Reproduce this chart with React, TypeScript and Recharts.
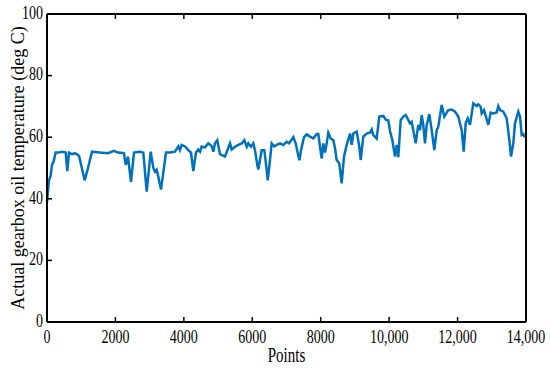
import React from 'react';
import { LineChart, Line, XAxis, YAxis } from 'recharts';

const pointIndex = [
  0, 58, 108, 146, 190, 254, 321, 438, 547, 593,
  643, 731, 818, 935, 1102, 1198, 1315, 1549, 1783, 1958,
  2075, 2250, 2300, 2367, 2455, 2543, 2718, 2815, 2914, 3031,
  3107, 3157, 3206, 3253, 3332, 3478, 3595, 3741, 3838, 3887,
  3937, 4033, 4130, 4209, 4276, 4355, 4422, 4472, 4521, 4618,
  4714, 4814, 4861, 4910, 4977, 5056, 5115, 5202, 5281, 5349,
  5398, 5495, 5591, 5691, 5767, 5837, 5884, 5962, 6030, 6079,
  6147, 6176, 6225, 6275, 6351, 6421, 6451, 6497, 6567, 6643,
  6713, 6810, 6906, 7006, 7073, 7199, 7269, 7345, 7380, 7424,
  7511, 7590, 7687, 7783, 7883, 7930, 7979, 8029, 8076, 8125,
  8175, 8222, 8292, 8368, 8418, 8467, 8543, 8613, 8680, 8759,
  8856, 8905, 8952, 9052, 9128, 9169, 9245, 9344, 9440, 9490,
  9537, 9636, 9712, 9829, 9908, 9975, 10025, 10093, 10171, 10221,
  10268, 10338, 10414, 10484, 10560, 10609, 10659, 10776, 10852, 10902,
  10951, 10998, 11048, 11098, 11174, 11244, 11320, 11390, 11437, 11536,
  11612, 11729, 11828, 11925, 12021, 12120, 12179, 12237, 12296, 12363,
  12460, 12559, 12606, 12676, 12705, 12772, 12802, 12898, 12968, 13044,
  13144, 13191, 13240, 13337, 13436, 13512, 13562, 13629, 13678, 13775,
  13825, 13874, 13921, 13960,
];

const oilTemp = [
  39, 46, 47.5, 51, 52, 55, 55, 55.3, 55, 49,
  55, 54.5, 54.8, 54, 46, 50, 55.3, 55, 54.8, 55.6,
  55, 54.8, 51, 53.7, 45.5, 55, 55.3, 55, 42.3, 55.3,
  50, 48.8, 49.4, 47.2, 43, 55, 55, 55.3, 57, 55.8,
  57.5, 57, 55.8, 55, 49, 55, 56, 55.3, 57, 56.7,
  58, 57.1, 55.3, 58, 59, 54.5, 54.2, 53.7, 56, 58,
  56, 56.9, 57.5, 58, 59, 56.9, 58, 56.9, 58, 55.8,
  51, 49.5, 52.6, 55.8, 55.8, 49.4, 46, 50.4, 58, 57,
  57.5, 58, 57.5, 58.5, 58, 60, 58, 54, 52.5, 55.8,
  60, 60.9, 60.2, 59.6, 61, 61, 56.9, 53.1, 58, 55,
  58, 61.5, 59.6, 59, 56.4, 52.6, 51.5, 45, 53.7, 57.5,
  61.2, 57.5, 61.2, 61.8, 56.9, 52.6, 60.2, 61.2, 61.5, 62.5,
  60.7, 59.6, 66.7, 66.9, 65.6, 65.5, 62, 59.1, 53.7, 57.5,
  53.5, 65.6, 66.7, 67.2, 65.6, 64.5, 65, 58, 64, 62.3,
  67.2, 64, 58, 64, 67.5, 62.3, 55.8, 62.3, 63.4, 70.5,
  66.7, 68.8, 69, 68.3, 66.7, 62.3, 55.3, 64.5, 66.1, 64,
  71, 70.1, 70.7, 69.9, 67.7, 68.8, 67.7, 64, 68, 67.7,
  68, 70.1, 68.8, 68.3, 66.1, 59.1, 53.7, 58, 64.5, 68.3,
  66.7, 60.7, 61, 60,
];

const xTicks = [0, 2000, 4000, 6000, 8000, 10000, 12000, 14000];
const xTickLabels = ['0', '2000', '4000', '6000', '8000', '10,000', '12,000', '14,000'];
const yTicks = [0, 20, 40, 60, 80, 100];

const data = pointIndex.map((p, i) => ({ point: p, temp: oilTemp[i] }));

const FONT = '"Liberation Serif", "Times New Roman", serif';
const STRETCH = 1.4;
const TICK_LEN = 5;

const XTick = (props: any) => {
  const { x, y, payload } = props;
  const idx = xTicks.indexOf(payload.value);
  const label = idx >= 0 ? xTickLabels[idx] : String(payload.value);
  return (
    <g transform={`translate(${x},${y})`}>
      <line x1={0} y1={0} x2={0} y2={-TICK_LEN} stroke="#000" strokeWidth={1.5} />
      <text
        transform={`scale(1,${STRETCH})`}
        x={0}
        y={15}
        textAnchor="middle"
        fontFamily={FONT}
        fontSize={14}
        fill="#000"
      >
        {label}
      </text>
    </g>
  );
};

const YTick = (props: any) => {
  const { x, y, payload } = props;
  return (
    <g transform={`translate(${x},${y})`}>
      <line x1={0} y1={0} x2={TICK_LEN} y2={0} stroke="#000" strokeWidth={1.5} />
      <text
        transform={`scale(1,${STRETCH})`}
        x={-4}
        y={3.4}
        textAnchor="end"
        fontFamily={FONT}
        fontSize={14}
        fill="#000"
      >
        {payload.value}
      </text>
    </g>
  );
};

const TopTick = (props: any) => {
  const { x, y } = props;
  return <line x1={x} y1={y} x2={x} y2={y + TICK_LEN} stroke="#000" strokeWidth={1.5} />;
};

const RightTick = (props: any) => {
  const { x, y } = props;
  return <line x1={x} y1={y} x2={x - TICK_LEN} y2={y} stroke="#000" strokeWidth={1.5} />;
};

const XLabel = (props: any) => {
  const vb = props.viewBox || {};
  const cx = (vb.x || 0) + (vb.width || 0) / 2;
  const by = (vb.y || 0) + 40;
  return (
    <g transform={`translate(${cx},${by})`}>
      <text
        transform={`scale(1,${STRETCH})`}
        x={0}
        y={0}
        textAnchor="middle"
        fontFamily={FONT}
        fontSize={15}
        fill="#000"
      >
        Points
      </text>
    </g>
  );
};

const YLabel = (props: any) => {
  const vb = props.viewBox || {};
  const cy = (vb.y || 0) + (vb.height || 0) / 2;
  return (
    <text
      transform={`translate(24,${cy}) rotate(-90)`}
      x={0}
      y={0}
      textAnchor="middle"
      fontFamily={FONT}
      fontSize={18}
      fill="#000"
    >
      Actual gearbox oil temperature (deg C)
    </text>
  );
};

export default function App() {
  return (
    <div style={{ position: 'absolute', left: 0, top: 0, width: 550, height: 372 }}>
      <LineChart
        width={550}
        height={372}
        data={data}
        margin={{ top: 13, right: 23, bottom: 0, left: 0 }}
      >
        <XAxis
          dataKey="point"
          type="number"
          domain={[0, 14000]}
          ticks={xTicks}
          interval={0}
          height={50}
          axisLine={{ stroke: '#000', strokeWidth: 2 }}
          tickLine={false}
          tickSize={0}
          tickMargin={0}
          tick={<XTick />}
          label={{ value: 'Points', content: <XLabel /> }}
        />
        <XAxis
          xAxisId="top"
          orientation="top"
          dataKey="point"
          type="number"
          domain={[0, 14000]}
          ticks={xTicks}
          interval={0}
          height={1}
          axisLine={{ stroke: '#000', strokeWidth: 2 }}
          tickLine={false}
          tickSize={0}
          tickMargin={0}
          tick={<TopTick />}
        />
        <YAxis
          type="number"
          domain={[0, 100]}
          ticks={yTicks}
          interval={0}
          width={47}
          axisLine={{ stroke: '#000', strokeWidth: 2 }}
          tickLine={false}
          tickSize={0}
          tickMargin={0}
          tick={<YTick />}
          label={{ value: 'Actual gearbox oil temperature (deg C)', content: <YLabel /> }}
        />
        <YAxis
          yAxisId="right"
          orientation="right"
          type="number"
          domain={[0, 100]}
          ticks={yTicks}
          interval={0}
          width={1}
          axisLine={{ stroke: '#000', strokeWidth: 2 }}
          tickLine={false}
          tickSize={0}
          tickMargin={0}
          tick={<RightTick />}
        />
        <Line
          type="linear"
          dataKey="temp"
          stroke="#0072BD"
          strokeWidth={2.5}
          dot={false}
          isAnimationActive={false}
        />
      </LineChart>
    </div>
  );
}
